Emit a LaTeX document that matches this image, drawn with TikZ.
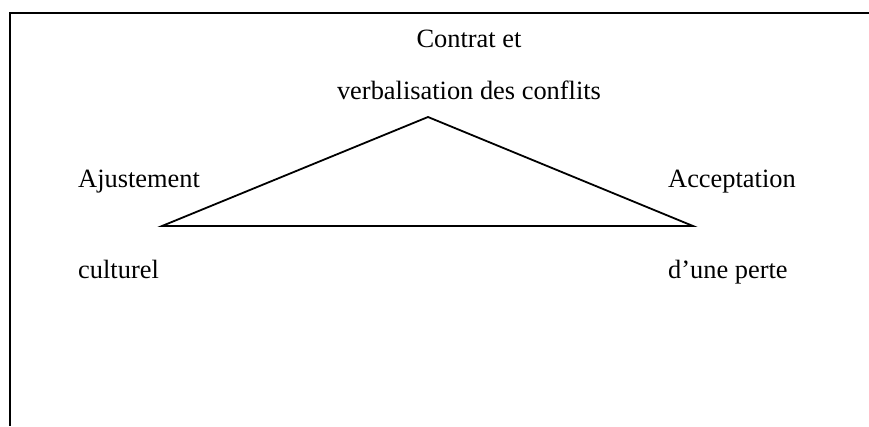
\documentclass[tikz,border=0pt]{standalone}
\usepackage{fontspec}
\setmainfont{Liberation Serif}
\begin{document}
\begin{tikzpicture}[x=1pt,y=-1pt,
  lbl/.style={inner sep=0pt,font=\fontsize{26.4}{30}\selectfont},
  frame/.style={line width=2.4pt},
  tri/.style={line width=1.8pt,line join=miter}]
\useasboundingbox (0,0) rectangle (869,426);
\coordinate (tl) at (10,13);
\coordinate (tr) at (869,13);
\coordinate (bl) at (10,426);
\draw[frame] (tr) -- (tl) -- (bl);
\coordinate (apex) at (428,117);
\coordinate (left) at (162,226);
\coordinate (right) at (693,226);
\draw[tri] (left) -- (apex) -- (right) -- cycle;
\node[lbl,anchor=base] (t1) at (469,47) {Contrat et};
\node[lbl,anchor=base] (t2) at (469,99) {verbalisation des conflits};
\node[lbl,anchor=base west] (l1) at (78,187) {Ajustement};
\node[lbl,anchor=base west] (l2) at (78,278) {culturel};
\node[lbl,anchor=base west] (r1) at (668,187) {Acceptation};
\node[lbl,anchor=base west] (r2) at (668,278) {d’une perte};
\end{tikzpicture}
\end{document}
